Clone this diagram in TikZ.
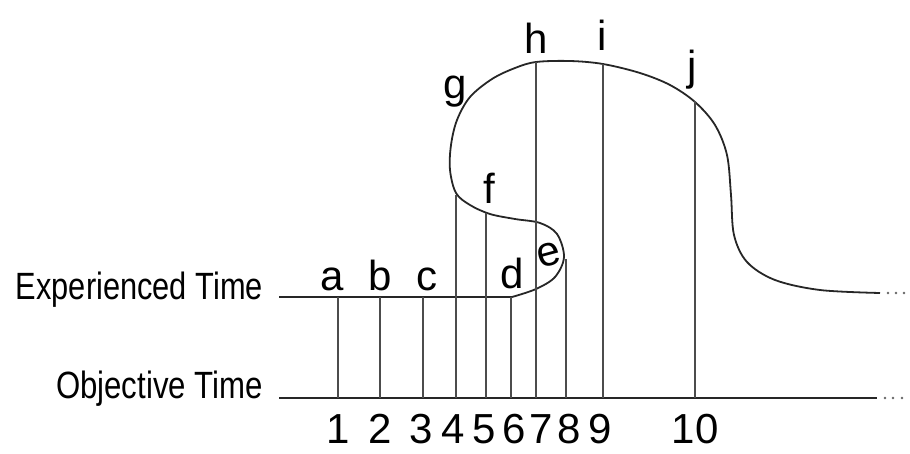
\documentclass[tikz,border=0pt]{standalone}
\usepackage{fontspec}
\setmainfont{Liberation Sans}
\usepackage{graphicx}
\begin{document}
\begin{tikzpicture}[x=1pt,y=-1pt,
  axisline/.style={line width=1.6pt, black!85},
  tick/.style={line width=1.2pt, black!70},
  curveline/.style={line width=1.8pt, black!85},
  lbl/.style={inner sep=0pt, anchor=base, font=\fontsize{42}{46}\selectfont},
  num/.style={inner sep=0pt, anchor=base, text depth=0pt, font=\fontsize{42}{46}\selectfont},
  axlbl/.style={inner sep=0pt, anchor=base east, font=\fontsize{38}{42}\selectfont},
  enddot/.style={circle, fill=black!60, inner sep=0pt, minimum size=2.6pt}]
\useasboundingbox (0,0) rectangle (910,453);

% axes
\coordinate (eL) at (279,297);
\coordinate (eR) at (512,297);
\coordinate (oL) at (279,398);
\coordinate (oR) at (877,398);
\draw[axisline] (eL) -- (eR);
\draw[axisline] (oL) -- (oR);
\node[enddot] (od1) at (885,398) {};
\node[enddot] (od2) at (893,398) {};
\node[enddot] (od3) at (902,398) {};

% experienced time curve
\draw[curveline] plot[smooth, tension=0.55] coordinates {
 (512,297) (536,289) (555,277) (564,257) (557,234) (540,223) (515,219)
 (490,214) (470,205) (456,193) (450,170) (451,145) (457,120) (470,97)
 (492,79) (515,68) (536,62) (570,61) (603,64) (640,73) (670,85)
 (695,102) (715,125) (727,155) (731,195) (734,235) (747,262) (775,280)
 (820,290) (880,293)};
\node[enddot] (cd1) at (888,293) {};
\node[enddot] (cd2) at (896,293) {};
\node[enddot] (cd3) at (904,293) {};

% vertical correspondences
\foreach \n/\x/\t in {1/338/297, 2/380/297, 3/423/297, 4/456/195, 5/486/213,
                      6/511/297, 7/536/62, 8/566/259, 9/603/64, 10/695/101} {
  \coordinate (top\n) at (\x,\t);
  \coordinate (bot\n) at (\x,398);
  \draw[tick] (top\n) -- (bot\n);
}

% axis labels
\node[axlbl] (exp) at (263,299) {\scalebox{0.81}[1]{Experienced Time}};
\node[axlbl] (obj) at (263,398) {\scalebox{0.82}[1]{Objective Time}};

% letters
\node[lbl] (la) at (332,290) {a};
\node[lbl] (lb) at (380,290) {b};
\node[lbl] (lc) at (427,290) {c};
\node[lbl] (ld) at (512,288) {d};
\node[lbl, rotate=15] (le) at (552,265) {e};
\node[lbl] (lf) at (489,203) {f};
\node[lbl] (lg) at (455,98) {g};
\node[lbl] (lh) at (536,53) {h};
\node[lbl] (li) at (602,50) {i};
\node[lbl] (lj) at (692,80) {j};

% numbers
\node[num] (n1) at (338,443) {1};
\node[num] (n2) at (380,443) {2};
\node[num] (n3) at (421,443) {3};
\node[num] (n4) at (453,443) {4};
\node[num] (n5) at (484,443) {5};
\node[num] (n6) at (514,443) {6};
\node[num] (n7) at (541,443) {7};
\node[num] (n8) at (569,443) {8};
\node[num] (n9) at (600,443) {9};
\node[num] (n10) at (695,443) {10};
\end{tikzpicture}
\end{document}
